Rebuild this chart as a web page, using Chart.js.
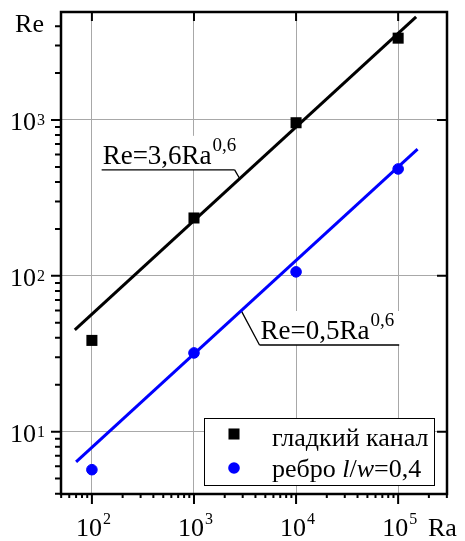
<!DOCTYPE html>
<html>
<head>
<meta charset="utf-8">
<script src="https://cdn.jsdelivr.net/npm/chart.js@4.4.1/dist/chart.umd.min.js"></script>
<style>
  html, body { margin: 0; padding: 0; background: #fff; }
  .chart-wrap { width: 465px; height: 541px; position: relative; }
</style>
</head>
<body>
<div class="chart-wrap"><canvas id="reChart"></canvas></div>
<script>
// measured points
const raPoints = [1e2, 1e3, 1e4, 1e5];
const reSmooth = [38.5, 235, 960, 3350];
const reRib = [5.7, 32, 106, 485];

// fitted lines, end points
const fitSmoothRa = [68, 150000];
const fitSmoothRe = [45, 4590];
const fitRibRa = [70, 155000];
const fitRibRe = [6.4, 650];

// axes
const xDecades = [1e2, 1e3, 1e4, 1e5];
const xExps = ['2', '3', '4', '5'];
const yDecades = [1e1, 1e2, 1e3];
const yExps = ['1', '2', '3'];

const SERIF = '"Liberation Serif", "Times New Roman", serif';

function minorTicks(min, max) {
  const out = [];
  for (let e = -1; e < 7; e++) {
    for (let m = 1; m < 10; m++) {
      const v = m * Math.pow(10, e);
      if (v >= min && v <= max) out.push({ value: v, major: m === 1 });
    }
  }
  return out;
}

// formula notes, anchored on the fitted lines
const notes = [
  { ra: 2800, re: 421, text: 'Re=3,6Ra', sup: '0,6', ux0: -138, ux1: -5, uy: -8.7, join: 'right' },
  { ra: 2900, re: 59.8, text: 'Re=0,5Ra', sup: '0,6', ux0: 18.3, ux1: 158, uy: 34.4, join: 'left' }
];

function drawPow(ctx, base, exp, x, y, supDy, align) {
  ctx.font = '26px ' + SERIF;
  const wb = ctx.measureText(base).width;
  ctx.font = '16px ' + SERIF;
  const we = ctx.measureText(exp).width;
  let left = x;
  if (align === 'right') left = x - wb - we;
  if (align === 'center') left = x - (wb + we) / 2;
  ctx.textAlign = 'left';
  ctx.textBaseline = 'alphabetic';
  ctx.font = '26px ' + SERIF;
  ctx.fillText(base, left, y);
  ctx.font = '16px ' + SERIF;
  ctx.fillText(exp, left + wb + 1, y + supDy);
}

const decor = {
  id: 'decor',
  beforeDatasetsDraw(chart) {
    const { ctx, scales: { x, y } } = chart;
    ctx.save();
    notes.forEach((n) => {
      const ax = x.getPixelForValue(n.ra);
      const ay = y.getPixelForValue(n.re);
      const lx0 = ax + n.ux0, lx1 = ax + n.ux1, ly = ay + n.uy;
      ctx.fillStyle = '#fff';
      ctx.fillRect(lx0, ly - 34, lx1 - lx0, 34);
      ctx.strokeStyle = '#000';
      ctx.lineWidth = 1.3;
      ctx.beginPath();
      ctx.moveTo(lx0, ly);
      ctx.lineTo(lx1, ly);
      const jx = n.join === 'right' ? lx1 : lx0;
      ctx.moveTo(jx, ly);
      ctx.lineTo(ax, ay);
      ctx.stroke();
      ctx.fillStyle = '#000';
      ctx.textAlign = 'left';
      ctx.textBaseline = 'alphabetic';
      ctx.font = '27px ' + SERIF;
      const tx = lx0 + 1;
      const ty = ly - 6;
      ctx.fillText(n.text, tx, ty);
      const w = ctx.measureText(n.text).width;
      ctx.font = '19px ' + SERIF;
      ctx.fillText(n.sup, tx + w + 1, ty - 13);
    });
    ctx.restore();
  },
  afterDraw(chart) {
    const { ctx, chartArea: a, scales: { x, y } } = chart;
    ctx.save();
    // frame
    ctx.strokeStyle = '#000';
    ctx.lineWidth = 2.5;
    ctx.strokeRect(a.left, a.top, a.right - a.left, a.bottom - a.top);

    // tick marks
    ctx.lineWidth = 2;
    ctx.beginPath();
    minorTicks(y.min, y.max).forEach((t) => {
      const py = y.getPixelForValue(t.value);
      ctx.moveTo(a.left - (t.major ? 10 : 6), py);
      ctx.lineTo(a.left, py);
      if (t.major) {
        ctx.moveTo(a.right, py);
        ctx.lineTo(a.right - 10, py);
      }
    });
    minorTicks(x.min, x.max).forEach((t) => {
      const px = x.getPixelForValue(t.value);
      ctx.moveTo(px, a.bottom);
      ctx.lineTo(px, a.bottom + (t.major ? 10 : 4));
      if (t.major) {
        ctx.moveTo(px, a.top);
        ctx.lineTo(px, a.top + 9);
      }
    });
    ctx.stroke();

    // tick labels
    ctx.fillStyle = '#000';
    yDecades.forEach((v, i) => {
      const py = y.getPixelForValue(v);
      drawPow(ctx, '10', yExps[i], 44, py + 10.5, -5, 'right');
    });
    xDecades.forEach((v, i) => {
      const px = x.getPixelForValue(v);
      drawPow(ctx, '10', xExps[i], px + 1, 536, -12, 'center');
    });

    // axis titles
    ctx.font = '26px ' + SERIF;
    ctx.textAlign = 'right';
    ctx.fillText('Re', 44, 32);
    ctx.textAlign = 'left';
    ctx.fillText('Ra', 428, 536);

    // legend
    const ds = chart.data.datasets;
    const bx = 204, bw = a.right - 13 - bx;
    const bh = 67, by = a.bottom - 9 - bh;
    ctx.fillStyle = '#fff';
    ctx.fillRect(bx, by, bw, bh);
    ctx.lineWidth = 1;
    ctx.strokeStyle = '#000';
    ctx.strokeRect(bx + 0.5, by + 0.5, bw, bh);

    const s = ds[0].pointRadius * Math.SQRT1_2;
    ctx.fillStyle = ds[0].backgroundColor;
    ctx.fillRect(bx + 30 - s, by + 16 - s, 2 * s, 2 * s);
    ctx.fillStyle = ds[1].backgroundColor;
    ctx.beginPath();
    ctx.arc(bx + 30, by + 50, ds[1].pointRadius + 0.5, 0, Math.PI * 2);
    ctx.fill();

    ctx.fillStyle = '#000';
    ctx.textAlign = 'left';
    ctx.font = '26px ' + SERIF;
    ctx.fillText(ds[0].label, bx + 68, by + 27.5);
    const parts = [['ребро ', ''], ['l', 'italic '], ['/', ''], ['w', 'italic '], ['=0,4', '']];
    let tx = bx + 68;
    parts.forEach(([t, st]) => {
      ctx.font = st + '26px ' + SERIF;
      ctx.fillText(t, tx, by + 59);
      tx += ctx.measureText(t).width;
    });
    ctx.restore();
  }
};

const pts = (xs, ys) => xs.map((v, i) => ({ x: v, y: ys[i] }));

new Chart(document.getElementById('reChart'), {
  type: 'scatter',
  data: {
    datasets: [
      {
        label: 'гладкий канал',
        data: pts(raPoints, reSmooth),
        pointStyle: 'rect',
        pointRadius: 7.8,
        borderWidth: 0,
        backgroundColor: '#000000'
      },
      {
        label: 'ребро l/w=0,4',
        data: pts(raPoints, reRib),
        pointStyle: 'circle',
        pointRadius: 5.3,
        borderWidth: 1,
        borderColor: '#0000ff',
        backgroundColor: '#0000ff'
      },
      {
        label: 'Re=3,6Ra^0,6',
        data: pts(fitSmoothRa, fitSmoothRe),
        showLine: true,
        pointRadius: 0,
        borderColor: '#000000',
        borderWidth: 3
      },
      {
        label: 'Re=0,5Ra^0,6',
        data: pts(fitRibRa, fitRibRe),
        showLine: true,
        pointRadius: 0,
        borderColor: '#0000ff',
        borderWidth: 3
      }
    ]
  },
  options: {
    responsive: true,
    maintainAspectRatio: false,
    animation: false,
    layout: { padding: { left: 61, right: 18, top: 12, bottom: 47 } },
    plugins: { legend: { display: false }, tooltip: { enabled: false } },
    scales: {
      x: {
        type: 'logarithmic',
        min: 49.8,
        max: 301000,
        bounds: 'data',
        afterBuildTicks: (axis) => { axis.ticks = xDecades.map((v) => ({ value: v, major: true })); },
        ticks: { display: false },
        grid: { color: '#a8a8a8', lineWidth: 1, drawTicks: false },
        border: { display: false }
      },
      y: {
        type: 'logarithmic',
        min: 3.98,
        max: 4930,
        bounds: 'data',
        afterBuildTicks: (axis) => { axis.ticks = yDecades.map((v) => ({ value: v, major: true })); },
        ticks: { display: false },
        grid: { color: '#a8a8a8', lineWidth: 1, drawTicks: false },
        border: { display: false }
      }
    }
  },
  plugins: [decor]
});
</script>
</body>
</html>
